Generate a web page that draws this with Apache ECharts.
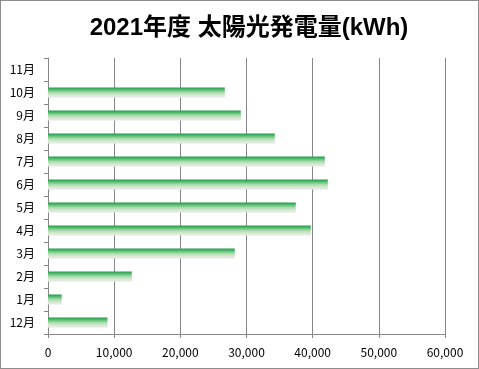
<!DOCTYPE html>
<html><head><meta charset="utf-8">
<script src="https://cdn.jsdelivr.net/npm/echarts@6/dist/echarts.min.js"></script>
<style>
html,body{margin:0;padding:0;background:#fff;}
#c{width:479px;height:369px;box-sizing:border-box;border:1px solid #8c8c8c;}
</style></head><body>
<div id="c"></div>
<script>
const titleText = '2021年度 太陽光発電量(kWh)';
const months = ['12月','1月','2月','3月','4月','5月','6月','7月','8月','9月','10月','11月'];
const kwh = [8980, 2070, 12660, 28230, 39720, 37450, 42290, 41840, 34280, 29140, 26720, null];
const xTicks = [0, 10000, 20000, 30000, 40000, 50000, 60000];

const chart = echarts.init(document.getElementById('c'), null, {renderer:'canvas'});
const font = '"Noto Sans CJK JP", "Noto Sans", sans-serif';
chart.setOption({
  animation:false,
  title:{text:titleText,left:243,top:10,textAlign:'center',
    textStyle:{fontFamily:'"Liberation Sans", "Noto Sans CJK JP", sans-serif',fontSize:24,fontWeight:'bold',color:'#000'}},
  grid:{left:47,top:57,width:397,height:276,containLabel:false},
  xAxis:{type:'value',min:xTicks[0],max:xTicks[xTicks.length-1],interval:10000,
    axisLine:{show:true,lineStyle:{color:'#868686',width:1}},
    axisTick:{show:true,length:4,lineStyle:{color:'#868686'}},
    axisLabel:{margin:12,fontFamily:font,fontSize:12,color:'#000',
      formatter:v=>v.toLocaleString('en-US')},
    splitLine:{show:true,lineStyle:{color:'#868686',width:1}}},
  yAxis:{type:'category',data:months,
    axisLine:{show:true,lineStyle:{color:'#868686',width:1}},
    axisTick:{show:true,length:4,alignWithLabel:false,lineStyle:{color:'#868686'}},
    axisLabel:{margin:13,fontFamily:font,fontSize:12,color:'#000'},
    splitLine:{show:false}},
  series:[{type:'bar',data:kwh,barWidth:10,
    itemStyle:{color:new echarts.graphic.LinearGradient(0,0,0,1,[
      {offset:0,color:'#22994a'},
      {offset:0.2,color:'#4cb86a'},
      {offset:0.5,color:'#a8dca8'},
      {offset:0.8,color:'#dbe9d8'},
      {offset:1,color:'#e2e8e4'}])}}]
});
</script></body></html>
